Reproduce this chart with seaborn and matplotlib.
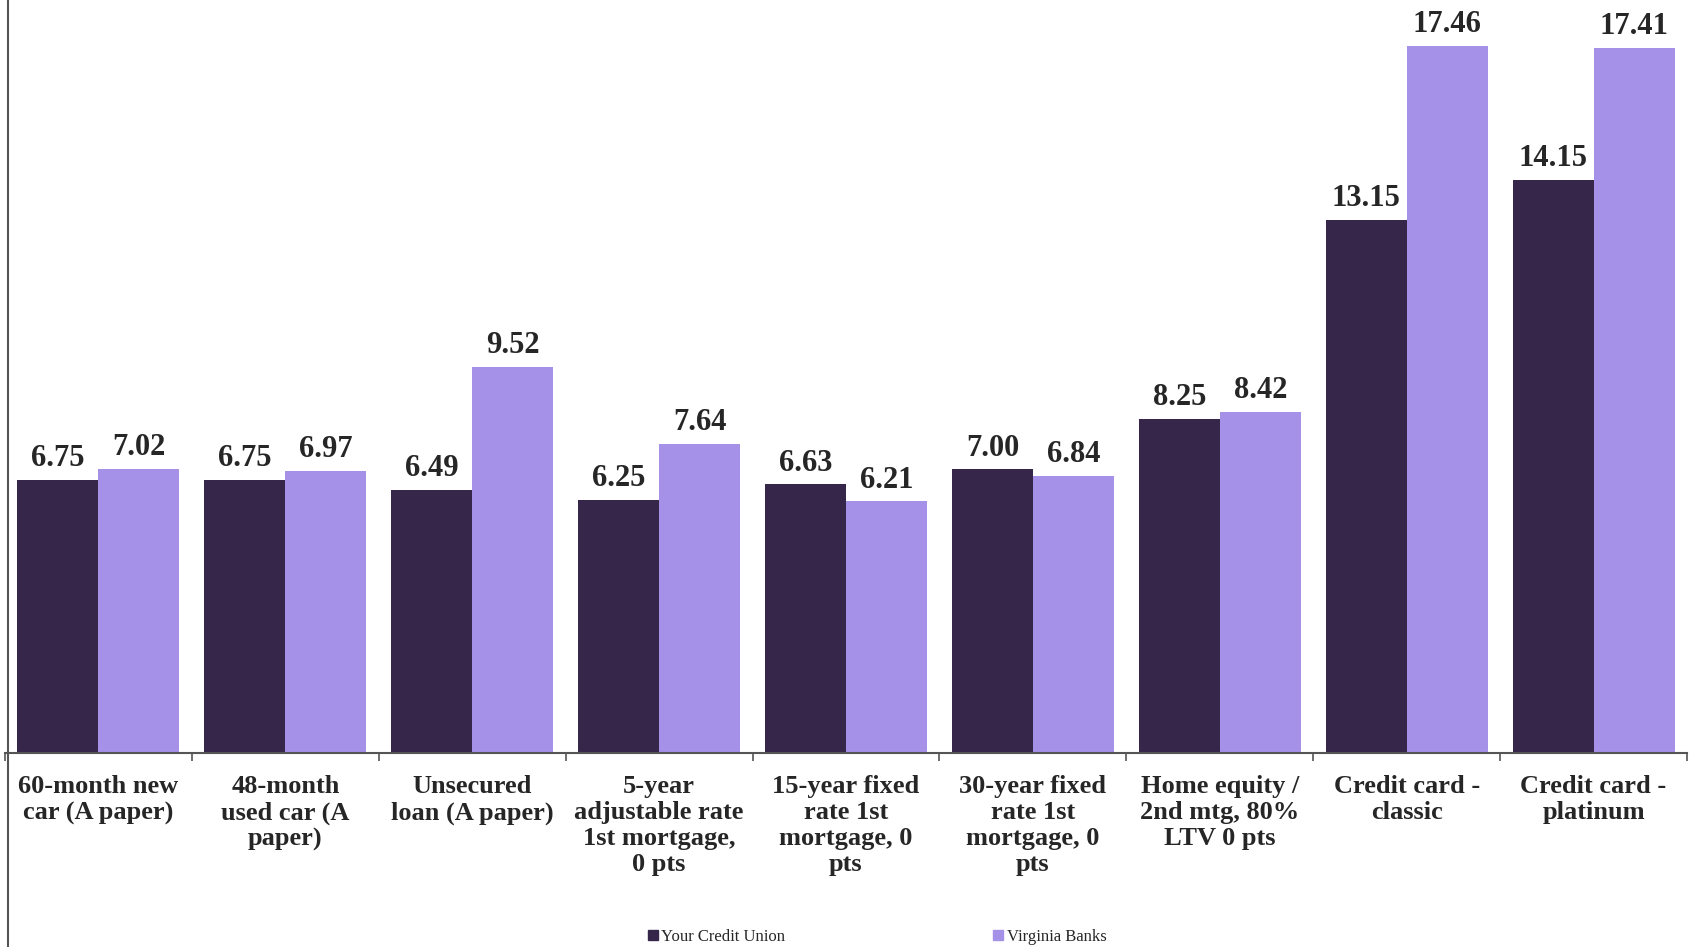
import matplotlib
matplotlib.use("Agg")
import matplotlib.pyplot as plt
from matplotlib.lines import Line2D
import seaborn as sns
import pandas as pd
import numpy as np

categories = [
    "60-month new\ncar (A paper)",
    "48-month\nused car (A\npaper)",
    "Unsecured\nloan (A paper)",
    "5-year\nadjustable rate\n1st mortgage,\n0 pts",
    "15-year fixed\nrate 1st\nmortgage, 0\npts",
    "30-year fixed\nrate 1st\nmortgage, 0\npts",
    "Home equity /\n2nd mtg, 80%\nLTV 0 pts",
    "Credit card -\nclassic",
    "Credit card -\nplatinum",
]
series_names = ["Your Credit Union", "Virginia Banks"]
credit_union = [6.75, 6.75, 6.49, 6.25, 6.63, 7.00, 8.25, 13.15, 14.15]
virginia_banks = [7.02, 6.97, 9.52, 7.64, 6.21, 6.84, 8.42, 17.46, 17.41]
colors = ["#35264A", "#A591E8"]

df = pd.DataFrame({
    "category": categories * 2,
    "rate": credit_union + virginia_banks,
    "series": [series_names[0]] * len(categories) + [series_names[1]] * len(categories),
})

sns.set_style("white")
plt.rcParams["font.family"] = ["Liberation Serif", "DejaVu Serif"]

W, H = 1690, 947
fig = plt.figure(figsize=(W / 100, H / 100), dpi=100)
ax = fig.add_axes([5 / W, (H - 753) / H, 1682 / W, 753 / H])

sns.barplot(data=df, x="category", y="rate", hue="series", order=categories,
            hue_order=series_names, palette=colors, saturation=1, width=0.867,
            gap=0, linewidth=0, ax=ax, legend=False)

ax.set_xlim(-0.5, len(categories) - 0.5)
ax.set_ylim(0, 18.59)
ax.set_xlabel("")
ax.set_ylabel("")
ax.set_yticks([])

for s in ["top", "right", "left"]:
    ax.spines[s].set_visible(False)
ax.spines["bottom"].set_color("#555555")
ax.spines["bottom"].set_linewidth(1.5)

ax.set_xticks(range(len(categories)))
ax.set_xticklabels(categories, fontsize=19, fontweight="bold", linespacing=1.17)
ax.tick_params(axis="x", which="major", length=0, pad=16)
ax.set_xticks(np.arange(-0.5, len(categories)), minor=True)
ax.tick_params(axis="x", which="minor", length=6, width=1.2, color="#555555",
               direction="out", bottom=True)

for container in ax.containers:
    ax.bar_label(container, fmt="%.2f", padding=5, fontsize=22, fontweight="bold")

# vertical axis line spanning the full figure height
fig.add_artist(Line2D([8.5 / W, 8.5 / W], [0, 1], transform=fig.transFigure,
                      color="#555555", linewidth=1.5))

handles = [plt.Rectangle((0, 0), 1, 1, color=c) for c in colors]
fig.legend(handles, series_names, loc="center", bbox_to_anchor=(877 / W, 1 - 937 / H),
           ncol=2, frameon=False, fontsize=12, handlelength=0.6, handleheight=0.6,
           handletextpad=0.2, columnspacing=12.5, borderpad=0)

fig.savefig("out.png", dpi=100)
